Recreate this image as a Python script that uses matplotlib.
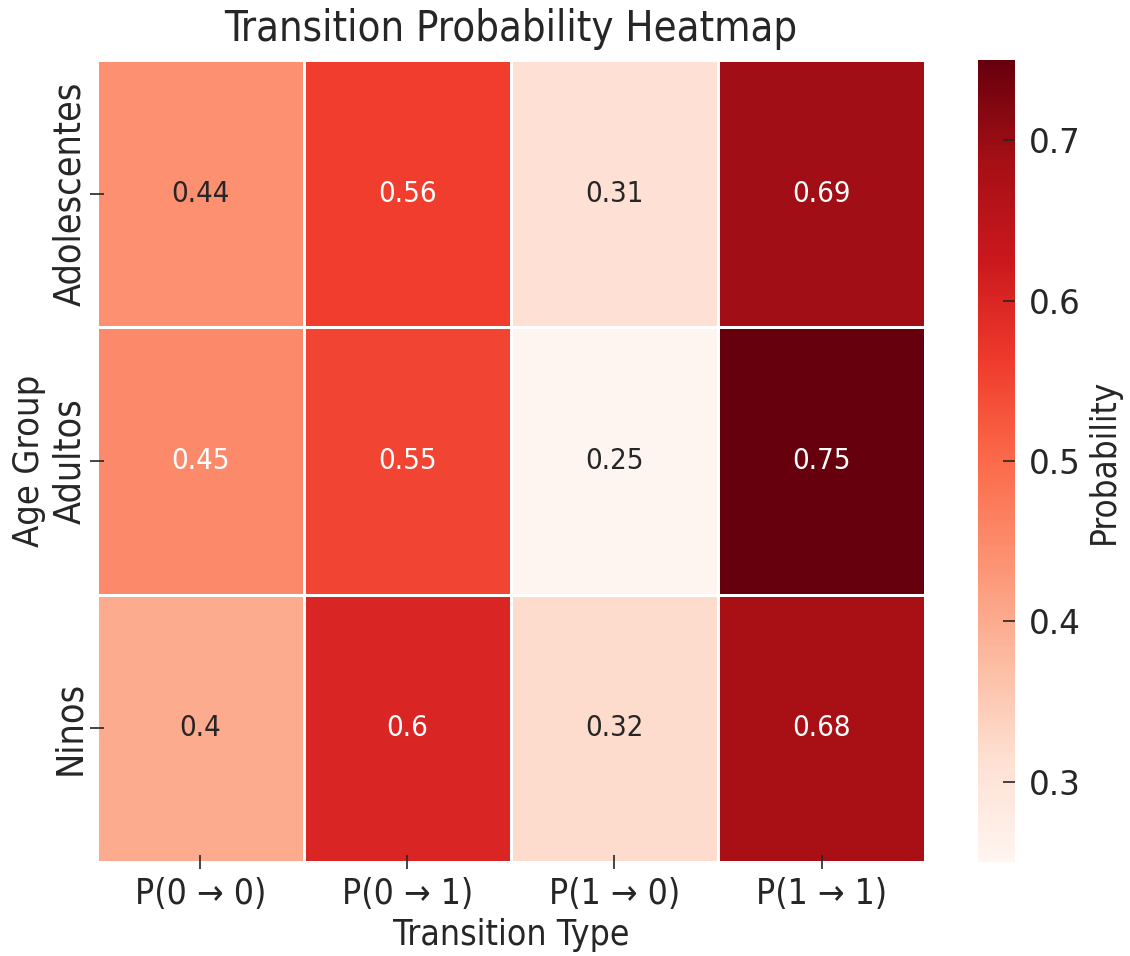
import matplotlib
matplotlib.use("Agg")
import matplotlib.pyplot as plt
import numpy as np
import pandas as pd
import seaborn as sns

# transition probabilities per age group
age_groups = ["Adolescentes", "Adultos", "Ninos"]
transitions = ["P(0 → 0)", "P(0 → 1)", "P(1 → 0)", "P(1 → 1)"]
adolescentes = [0.44, 0.56, 0.31, 0.69]
adultos = [0.45, 0.55, 0.25, 0.75]
ninos = [0.40, 0.60, 0.32, 0.68]

probs = pd.DataFrame([adolescentes, adultos, ninos], index=age_groups, columns=transitions)

plt.rcParams["font.family"] = "DejaVu Sans"
plt.rcParams["font.stretch"] = "condensed"
plt.rcParams["text.color"] = "#262626"
plt.rcParams["axes.labelcolor"] = "#262626"
plt.rcParams["xtick.color"] = "#262626"
plt.rcParams["ytick.color"] = "#262626"

fig = plt.figure(figsize=(11.3, 9.56), dpi=100)
ax = fig.add_axes([0.0858, 0.0983, 0.7328, 0.8387])
cax = fig.add_axes([0.8655, 0.0983, 0.0327, 0.8387])

sns.heatmap(probs, ax=ax, cbar_ax=cax, cmap="Reds", annot=True,
            linewidths=2, linecolor="white",
            annot_kws={"fontsize": 21},
            cbar_kws={"label": "Probability"})

ax.set_title("Transition Probability Heatmap", fontsize=30, pad=14)
ax.set_xlabel("Transition Type", fontsize=25.5, labelpad=5)
ax.set_ylabel("Age Group", fontsize=26, labelpad=5)
ax.tick_params(axis="both", direction="inout", length=10, width=1.2)
ax.tick_params(axis="x", labelsize=25.5, pad=6)
ax.tick_params(axis="y", labelsize=27, pad=1)
plt.setp(ax.get_yticklabels(), rotation=90, va="center")

cax.tick_params(labelsize=23.5, direction="in", length=9, width=1.2, pad=10)
for lbl in cax.get_yticklabels():
    lbl.set_fontstretch("normal")
cax.yaxis.label.set_fontsize(25)
cax.yaxis.labelpad = 4

fig.savefig("out.png", dpi=100)
